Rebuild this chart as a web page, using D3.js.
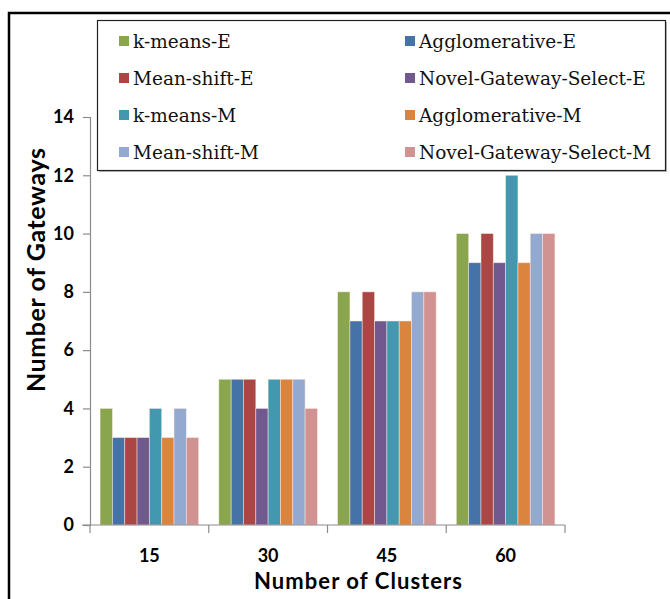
<!DOCTYPE html>
<html>
<head>
<meta charset="utf-8">
<script src="https://cdn.jsdelivr.net/npm/d3@7/dist/d3.min.js"></script>
<style>
  html, body { margin: 0; padding: 0; background: #fff; }
  svg { display: block; }
</style>
</head>
<body>
<svg id="chart" width="670" height="599"></svg>
<script>
// Cluster counts on the x axis
const clusters = ["15", "30", "45", "60"];

// Series names, in legend / bar order
const seriesNames = [
  "k-means-E", "Agglomerative-E",
  "Mean-shift-E", "Novel-Gateway-Select-E",
  "k-means-M", "Agglomerative-M",
  "Mean-shift-M", "Novel-Gateway-Select-M"
];

// Gateways selected per series, one value per cluster count
const kmeansE     = [4, 5, 8, 10];
const agglomE     = [3, 5, 7, 9];
const meanShiftE  = [3, 5, 8, 10];
const novelE      = [3, 4, 7, 9];
const kmeansM     = [4, 5, 7, 12];
const agglomM     = [3, 5, 7, 9];
const meanShiftM  = [4, 5, 8, 10];
const novelM      = [3, 4, 8, 10];

const yTicks = [0, 2, 4, 6, 8, 10, 12, 14];

// Bar order within each cluster group
const barOrder = [kmeansE, agglomE, meanShiftE, novelE, kmeansM, agglomM, meanShiftM, novelM];
const barNames = ["k-means-E", "Agglomerative-E", "Mean-shift-E", "Novel-Gateway-Select-E",
                  "k-means-M", "Agglomerative-M", "Mean-shift-M", "Novel-Gateway-Select-M"];

const colors = {
  "k-means-E": "#89A54E",
  "Agglomerative-E": "#4572A7",
  "Mean-shift-E": "#AA4643",
  "Novel-Gateway-Select-E": "#71588F",
  "k-means-M": "#4198AF",
  "Agglomerative-M": "#DB843D",
  "Mean-shift-M": "#93A9CF",
  "Novel-Gateway-Select-M": "#D19392"
};

const svg = d3.select("#chart");

// Outer chart frame (right and bottom edges run past the visible area)
svg.append("rect")
  .attr("x", 9).attr("y", 13)
  .attr("width", 680).attr("height", 600)
  .attr("fill", "none")
  .attr("stroke", "#000")
  .attr("stroke-width", 2.5);

const plot = { left: 90, right: 565, top: 117, bottom: 525 };

const x0 = d3.scaleBand()
  .domain(clusters)
  .range([plot.left, plot.right])
  .paddingInner(0.17)
  .paddingOuter(0.085);

const x1 = d3.scaleBand()
  .domain(barNames)
  .range([0, x0.bandwidth()]);

const y = d3.scaleLinear()
  .domain([0, 14])
  .range([plot.bottom, plot.top]);

// Bars
const groups = svg.append("g").selectAll("g")
  .data(clusters)
  .join("g")
  .attr("transform", d => `translate(${x0(d)},0)`);

groups.selectAll("rect")
  .data((c, i) => barNames.map((name, s) => ({ name, value: barOrder[s][i] })))
  .join("rect")
  .attr("x", d => x1(d.name))
  .attr("y", d => y(d.value))
  .attr("width", x1.bandwidth())
  .attr("height", d => y(0) - y(d.value))
  .attr("fill", d => colors[d.name])
  .attr("stroke", "rgba(255,235,225,0.6)")
  .attr("stroke-width", 0.8);

const labelFont = "Lato, 'Open Sans', sans-serif";

// Y axis
const yAxis = d3.axisLeft(y)
  .tickValues(yTicks)
  .tickSize(7)
  .tickPadding(9)
  .tickFormat(d3.format("d"));

const gy = svg.append("g")
  .attr("transform", `translate(${plot.left},0)`)
  .call(yAxis);
gy.select(".domain").attr("stroke", "#8c8c8c").attr("stroke-width", 1.2);
gy.selectAll(".tick line").attr("stroke", "#8c8c8c").attr("stroke-width", 1.2);
gy.selectAll(".tick text")
  .attr("font-family", labelFont)
  .attr("font-weight", "bold")
  .attr("font-size", 18)
  .attr("fill", "#000");

// X axis: a baseline with boundary ticks between groups
const xBase = svg.append("g");
xBase.append("line")
  .attr("x1", plot.left - 8).attr("x2", plot.right)
  .attr("y1", y(0)).attr("y2", y(0))
  .attr("stroke", "#8c8c8c").attr("stroke-width", 1.2);

const boundaries = d3.range(clusters.length + 1).map(i => plot.left + i * (plot.right - plot.left) / clusters.length);
xBase.selectAll("line.bound")
  .data(boundaries)
  .join("line")
  .attr("class", "bound")
  .attr("x1", d => d).attr("x2", d => d)
  .attr("y1", y(0)).attr("y2", y(0) + 8)
  .attr("stroke", "#8c8c8c").attr("stroke-width", 1.2);

xBase.selectAll("text.cat")
  .data(clusters)
  .join("text")
  .attr("class", "cat")
  .attr("x", d => x0(d) + x0.bandwidth() / 2)
  .attr("y", 562)
  .attr("text-anchor", "middle")
  .attr("font-family", labelFont)
  .attr("font-weight", "bold")
  .attr("font-size", 18)
  .text(d => d);

// Axis titles
svg.append("text")
  .attr("x", 358).attr("y", 589)
  .attr("text-anchor", "middle")
  .attr("font-family", labelFont)
  .attr("font-weight", "bold")
  .attr("font-size", 22)
  .attr("textLength", 208)
  .text("Number of Clusters");

svg.append("text")
  .attr("transform", "translate(45,270) rotate(-90)")
  .attr("text-anchor", "middle")
  .attr("font-family", labelFont)
  .attr("font-weight", "bold")
  .attr("font-size", 25)
  .attr("textLength", 244)
  .text("Number of Gateways");

// Legend
const legend = svg.append("g");
legend.append("rect")
  .attr("x", 99).attr("y", 22)
  .attr("width", 568).attr("height", 150)
  .attr("fill", "#888")
  .attr("opacity", 0.6);
legend.append("rect")
  .attr("x", 97.5).attr("y", 20.5)
  .attr("width", 568).attr("height", 150)
  .attr("fill", "#fff")
  .attr("stroke", "#222")
  .attr("stroke-width", 1.2);

const colX = [119, 405];
const rowY = [41, 78, 115, 152];
const items = legend.selectAll("g.item")
  .data(seriesNames)
  .join("g")
  .attr("class", "item")
  .attr("transform", (d, i) => `translate(${colX[i % 2]},${rowY[Math.floor(i / 2)]})`);

items.append("rect")
  .attr("x", 0).attr("y", -5)
  .attr("width", 10).attr("height", 10)
  .attr("fill", d => colors[d]);

items.append("text")
  .attr("x", 14).attr("y", 6.5)
  .attr("font-family", "'DejaVu Serif', serif")
  .attr("font-size", 18.5)
  .attr("fill", "#111")
  .text(d => d);
</script>
</body>
</html>
